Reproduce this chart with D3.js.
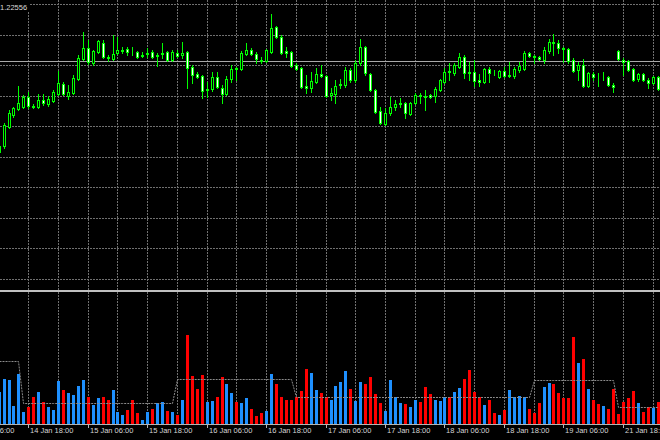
<!DOCTYPE html>
<html><head><meta charset="utf-8">
<script src="https://cdn.jsdelivr.net/npm/d3@7"></script>
<style>
html,body{margin:0;padding:0;background:#000;overflow:hidden}
svg{display:block}
text{font-family:"Liberation Sans",Arial,sans-serif}
</style></head><body>
<svg id="c" width="660" height="440"></svg>
<script>
// ---- data (EURUSD-like H1 bars) ----
const open = [
1.2248,1.2254,1.2273,1.2285,1.2291,1.2293,1.2303,1.22945,1.2293,1.2300,
1.2296,1.2299,1.2306,1.2316,1.2304,1.2307,1.2321,1.2341,1.2352,1.2337,
1.2348,1.2357,1.2343,1.2341,1.2347,1.23495,1.2351,1.23485,1.2348,1.2344,
1.2346,1.2348,1.2344,1.2346,1.2348,1.2340,1.2347,1.2345,1.2348,1.2333,
1.2326,1.2324,1.2310,1.2311,1.2323,1.23125,1.2306,1.2321,1.2332,1.2331,
1.2346,1.2350,1.2346,1.2340,1.2339,1.2348,1.2373,1.2363,1.2349,1.2348,
1.2335,1.2332,1.2314,1.2312,1.2318,1.2326,1.2324,1.2305,1.2306,1.2315,
1.2315,1.2330,1.2320,1.2337,1.2353,1.2326,1.2310,1.2289,1.2276,1.2287,
1.2293,1.2296,1.2297,1.2286,1.2297,1.2305,1.2304,1.2305,1.2304,1.2310,
1.2318,1.2329,1.2327,1.2333,1.2343,1.2328,1.2328,1.2320,1.2318,1.2331,
1.23275,1.2323,1.2329,1.2324,1.2324,1.2330,1.2331,1.2347,1.23435,1.2343,
1.2340,1.2349,1.2358,1.2357,1.2352,1.2351,1.2340,1.2330,1.2335,1.2314,
1.2326,1.2323,1.23225,1.2323,1.2315,1.2349,1.2340,1.2339,1.2331,1.2321,
1.2326,1.2320,1.2317,1.2323];
const high = [
1.2256,1.2277,1.2290,1.2293,1.2314,1.2305,1.2308,1.2296,1.2306,1.2306,
1.2304,1.2310,1.2329,1.2318,1.2315,1.2325,1.2345,1.2368,1.2360,1.2350,
1.2360,1.2360,1.2345,1.2365,1.2363,1.2353,1.2353,1.2353,1.2349,1.2348,
1.2352,1.2350,1.2347,1.2357,1.2349,1.2350,1.2350,1.2358,1.2349,1.2335,
1.2328,1.2325,1.2318,1.2328,1.2328,1.2315,1.2324,1.2335,1.2333,1.2349,
1.2357,1.2352,1.2348,1.2343,1.2351,1.2386,1.2374,1.2365,1.2353,1.2349,
1.2337,1.2333,1.2325,1.2328,1.2332,1.2335,1.2325,1.2312,1.2320,1.2321,
1.2333,1.2332,1.2340,1.2361,1.2354,1.2327,1.2311,1.2293,1.2292,1.2303,
1.2300,1.2302,1.2298,1.2298,1.2307,1.2307,1.2310,1.2306,1.2313,1.2321,
1.2332,1.2337,1.2337,1.2347,1.2345,1.2338,1.2340,1.2326,1.2332,1.2333,
1.2330,1.2330,1.2333,1.2338,1.2333,1.2338,1.2349,1.2348,1.2345,1.2344,
1.2353,1.2361,1.2366,1.2360,1.2353,1.2352,1.2342,1.2338,1.2341,1.2328,
1.2328,1.2327,1.2328,1.2324,1.2317,1.2350,1.2342,1.2340,1.2332,1.2327,
1.2327,1.2322,1.2324,1.2324];
const low = [
1.2242,1.2252,1.2272,1.2283,1.2290,1.2292,1.2292,1.2292,1.2292,1.2295,
1.2294,1.2298,1.2305,1.2305,1.2301,1.2306,1.2320,1.2340,1.2336,1.2335,
1.2347,1.2342,1.2339,1.2340,1.2346,1.2347,1.2345,1.2345,1.2342,1.2343,
1.2343,1.2342,1.2334,1.2342,1.2339,1.2339,1.2343,1.2342,1.2312,1.2317,
1.2322,1.2302,1.2303,1.2309,1.2312,1.2297,1.2305,1.2318,1.2320,1.2330,
1.2345,1.2345,1.2337,1.2337,1.2338,1.2347,1.2362,1.2346,1.2343,1.2333,
1.2330,1.2312,1.2307,1.2308,1.2317,1.2323,1.2303,1.2300,1.2297,1.2312,
1.2313,1.2318,1.2318,1.2335,1.2325,1.2309,1.2287,1.2276,1.2275,1.2285,
1.2290,1.2293,1.2282,1.2285,1.2296,1.2297,1.2290,1.2302,1.2298,1.2309,
1.2317,1.2320,1.2325,1.2332,1.2322,1.2320,1.2314,1.2314,1.2317,1.2318,
1.2325,1.2322,1.2323,1.2323,1.2322,1.2328,1.2330,1.2343,1.2337,1.2340,
1.2337,1.2347,1.2345,1.2347,1.2338,1.2337,1.2328,1.2320,1.2313,1.2313,
1.2320,1.2314,1.2320,1.2314,1.2308,1.2340,1.2325,1.2329,1.2319,1.2319,
1.2319,1.2312,1.2316,1.2310];
const close = [
1.2254,1.2275,1.2287,1.2292,1.2297,1.2303,1.2294,1.22935,1.2300,1.2297,
1.2301,1.2308,1.2317,1.2306,1.2308,1.2322,1.2342,1.2352,1.2338,1.2349,
1.2359,1.2343,1.2342,1.2346,1.2350,1.2350,1.2348,1.23475,1.2343,1.2345,
1.2347,1.2343,1.2345,1.2347,1.2340,1.2348,1.2344,1.2347,1.2332,1.2325,
1.2323,1.2309,1.2311,1.2323,1.2313,1.2306,1.2321,1.2331,1.2331,1.2347,
1.2350,1.2346,1.2341,1.2339,1.2350,1.2372,1.2363,1.2347,1.2347,1.2334,
1.2331,1.2313,1.23125,1.2319,1.2326,1.2324,1.2304,1.2307,1.2314,1.2316,
1.2330,1.2320,1.2337,1.2353,1.2327,1.2310,1.2288,1.2277,1.2287,1.2293,
1.2296,1.2297,1.2287,1.2297,1.2305,1.2304,1.2303,1.2303,1.2311,1.2320,
1.2328,1.2328,1.2335,1.2343,1.2327,1.2327,1.2319,1.2318,1.2331,1.2327,
1.23265,1.2329,1.2324,1.2325,1.2331,1.2334,1.2347,1.2344,1.23425,1.2341,
1.2350,1.2358,1.2357,1.2352,1.2351,1.2339,1.2329,1.2335,1.2314,1.2327,
1.2323,1.23225,1.2323,1.2315,1.2313,1.2341,1.2338,1.2330,1.2320,1.2326,
1.2320,1.2317,1.2323,1.2311];
const volume = [
320,450,440,180,500,120,170,270,320,220,
170,140,430,340,310,290,380,440,270,190,
260,270,240,340,120,90,140,240,110,40,
120,150,210,220,130,120,90,240,890,480,
350,490,220,230,270,470,400,310,220,210,
260,150,80,110,130,500,400,270,240,240,
270,330,550,510,340,310,270,240,380,420,
530,350,230,420,400,470,300,210,130,440,
270,210,200,170,240,220,370,300,240,230,
270,270,320,360,450,540,320,270,190,240,
110,90,140,340,270,280,270,150,110,210,
370,410,400,310,260,260,870,610,650,350,
240,200,180,150,350,100,220,260,330,210,
120,170,160,220];
// average-volume step line: first bar of each step and its level
const avgStart = [0, 5, 36, 60, 108, 125];
const avgLevel = [630, 207, 450, 273, 440, 167];
// price grid levels, bid line, header
const priceGrid = [1.23955,1.2365,1.2334,1.23035,1.2273,1.22425,1.2212,1.21815,1.2151,1.21205];
const bidPrice = 1.2339;
const headerText = "1.22556";
// time axis
const tickIndex = [-6, 6, 18, 30, 42, 54, 66, 78, 90, 102, 114, 126];
const tickLabels = ["14 Jan 06:00","14 Jan 18:00","15 Jan 06:00","15 Jan 18:00","16 Jan 06:00",
  "16 Jan 18:00","17 Jan 06:00","17 Jan 18:00","18 Jan 06:00","18 Jan 18:00","19 Jan 06:00","21 Jan 18:00"];
const gridEvery = 6;

// ---- drawing ----
const W = 660, H = 440;
const n = open.length;
const svg = d3.select("#c");
svg.append("rect").attr("width", W).attr("height", H).attr("fill", "#000");

const x = d3.scaleLinear().domain([0, n - 1]).range([-1.4, 657.5]).interpolate(d3.interpolateRound);
const yP = d3.scaleLinear().domain([1.2400, 1.2110]).range([0, 290]);
const yV = d3.scaleLinear().domain([0, 1320]).range([424, 292]);

const gridColor = "#707070";
const grid = svg.append("g").attr("shape-rendering", "crispEdges")
  .attr("stroke", gridColor).attr("stroke-dasharray", "2,1").attr("stroke-width", 1);

// horizontal grid (price panel)
grid.selectAll("line.h").data(priceGrid).join("line").attr("class", "h")
  .attr("x1", 0).attr("x2", W)
  .attr("y1", d => Math.floor(yP(d)) + 0.5).attr("y2", d => Math.floor(yP(d)) + 0.5);

// vertical grid (both panels)
const vIdx = d3.range(0, n, gridEvery);
grid.selectAll("line.v1").data(vIdx).join("line").attr("class", "v1")
  .attr("x1", d => x(d) + 0.5).attr("x2", d => x(d) + 0.5).attr("y1", 0).attr("y2", 290);
grid.selectAll("line.v2").data(vIdx).join("line").attr("class", "v2")
  .attr("x1", d => x(d) + 0.5).attr("x2", d => x(d) + 0.5).attr("y1", 292).attr("y2", 424);

// bid line
svg.append("line").attr("shape-rendering", "crispEdges")
  .attr("x1", 0).attr("x2", W)
  .attr("y1", Math.floor(yP(bidPrice)) + 0.5).attr("y2", Math.floor(yP(bidPrice)) + 0.5)
  .attr("stroke", "#a8a8a8").attr("stroke-width", 1);

// candles
const bars = d3.range(n);
const cg = svg.append("g").attr("shape-rendering", "crispEdges");
cg.selectAll("line.wick").data(bars).join("line").attr("class", "wick")
  .attr("x1", i => x(i) + 0.5).attr("x2", i => x(i) + 0.5)
  .attr("y1", i => Math.round(yP(high[i]))).attr("y2", i => Math.round(yP(low[i])) + 1)
  .attr("stroke", "#00ff00").attr("stroke-width", 1);
cg.selectAll("rect.body").data(bars).join("rect").attr("class", "body")
  .attr("x", i => x(i) - 0.5).attr("width", 2)
  .attr("y", i => Math.round(yP(Math.max(open[i], close[i]))) + 0.5)
  .attr("height", i => Math.max(0, Math.round(yP(Math.min(open[i], close[i]))) - Math.round(yP(Math.max(open[i], close[i])))))
  .attr("fill", i => close[i] >= open[i] ? "#000" : "#fff")
  .attr("stroke", "#00ff00").attr("stroke-width", 1);

// separator between panels
svg.append("rect").attr("x", 0).attr("y", 290).attr("width", W).attr("height", 2).attr("fill", "#c0c0c0");

// volume bars
const vg = svg.append("g").attr("shape-rendering", "crispEdges");
vg.selectAll("rect").data(bars).join("rect")
  .attr("x", i => x(i) - 1).attr("width", 3)
  .attr("y", i => Math.round(yV(volume[i])))
  .attr("height", i => 424 - Math.round(yV(volume[i])))
  .attr("fill", i => close[i] >= open[i] ? "#1e90ff" : "#ff0000");

// average step line
const avgAt = i => { let s = 0; for (let k = 0; k < avgStart.length; k++) if (avgStart[k] <= i) s = k; return avgLevel[s]; };
svg.append("path")
  .attr("d", d3.line().x(i => x(i) + 0.5).y(i => Math.round(yV(avgAt(i))) + 0.5)(bars))
  .attr("fill", "none").attr("stroke", "#8c8c8c").attr("stroke-width", 1).attr("stroke-dasharray", "2,1");

// bottom time axis
svg.append("line").attr("shape-rendering", "crispEdges")
  .attr("x1", 0).attr("x2", W).attr("y1", 424.5).attr("y2", 424.5)
  .attr("stroke", "#b4b4b4");
const axis = d3.axisBottom(x).tickValues(tickIndex)
  .tickFormat((d, k) => tickLabels[k]).tickSize(4).tickSizeOuter(0);
const ag = svg.append("g").attr("transform", "translate(0,424)").call(axis);
ag.select(".domain").remove();
ag.selectAll(".tick line").attr("stroke", "#b4b4b4").attr("shape-rendering", "crispEdges");
ag.selectAll(".tick text")
  .attr("text-anchor", "start").attr("x", 1.5).attr("y", 9).attr("dy", "0")
  .attr("fill", "#d4d4d4").style("font-size", "7.5px")
  .style("font-family", '"Liberation Sans", Arial, sans-serif');

// header price text
svg.append("rect").attr("x", 0).attr("y", 0).attr("width", 29).attr("height", 11).attr("fill", "#000");
svg.append("text").attr("x", 0).attr("y", 9.5).text(headerText)
  .attr("fill", "#d8d8d8").style("font-size", "7.5px");
</script>
</body></html>
